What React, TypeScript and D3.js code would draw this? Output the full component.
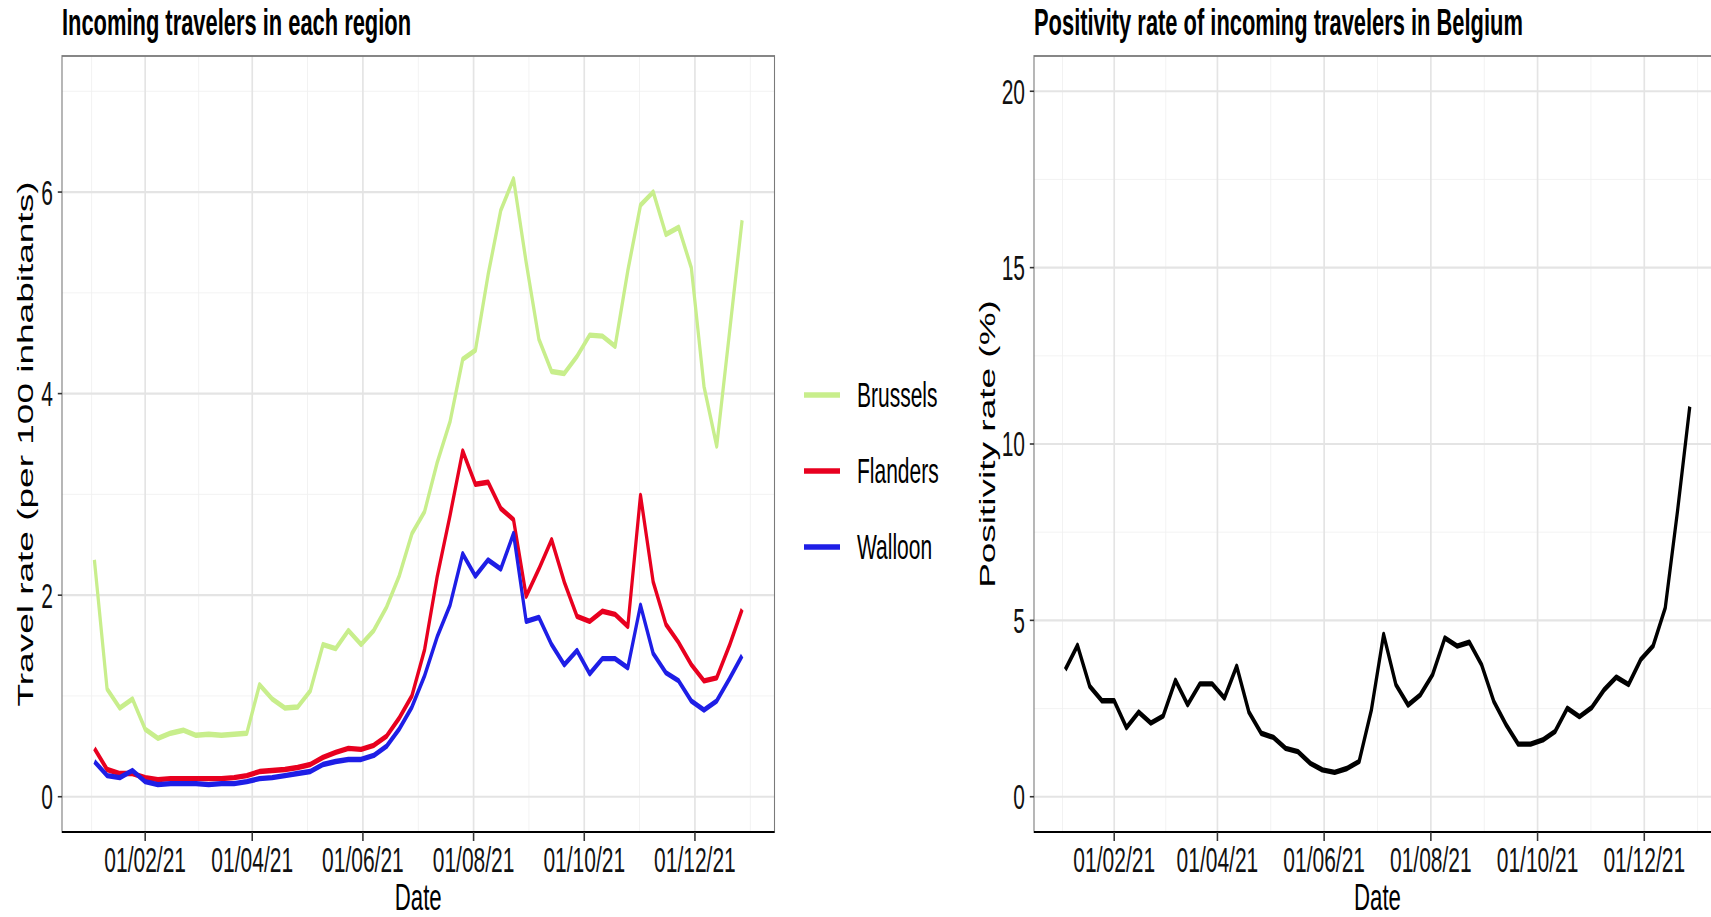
import React from 'react';
import * as d3 from 'd3';

// weekly observations (Mondays)
const WEEKS = [
  '2021-01-04', '2021-01-11', '2021-01-18', '2021-01-25',
  '2021-02-01', '2021-02-08', '2021-02-15', '2021-02-22',
  '2021-03-01', '2021-03-08', '2021-03-15', '2021-03-22', '2021-03-29',
  '2021-04-05', '2021-04-12', '2021-04-19', '2021-04-26',
  '2021-05-03', '2021-05-10', '2021-05-17', '2021-05-24', '2021-05-31',
  '2021-06-07', '2021-06-14', '2021-06-21', '2021-06-28',
  '2021-07-05', '2021-07-12', '2021-07-19', '2021-07-26',
  '2021-08-02', '2021-08-09', '2021-08-16', '2021-08-23', '2021-08-30',
  '2021-09-06', '2021-09-13', '2021-09-20', '2021-09-27',
  '2021-10-04', '2021-10-11', '2021-10-18', '2021-10-25',
  '2021-11-01', '2021-11-08', '2021-11-15', '2021-11-22', '2021-11-29',
  '2021-12-06', '2021-12-13', '2021-12-20', '2021-12-27',
];

const BRUSSELS = [
  2.35, 1.07, 0.88, 0.97, 0.67, 0.58, 0.63, 0.66, 0.61, 0.62, 0.61, 0.62, 0.63,
  1.11, 0.97, 0.88, 0.89, 1.05, 1.51, 1.47, 1.65, 1.51, 1.65, 1.88, 2.19, 2.61,
  2.83, 3.32, 3.72, 4.34, 4.43, 5.18, 5.82, 6.13, 5.3, 4.54, 4.22, 4.2, 4.37,
  4.58, 4.57, 4.47, 5.22, 5.87, 6.0, 5.58, 5.65, 5.25, 4.07, 3.48, 4.6, 5.72,
];

const FLANDERS = [
  0.48, 0.27, 0.23, 0.23, 0.19, 0.17, 0.18, 0.18, 0.18, 0.18, 0.18, 0.19, 0.21,
  0.25, 0.26, 0.27, 0.29, 0.32, 0.39, 0.44, 0.48, 0.47, 0.51, 0.6, 0.78, 1.0,
  1.46, 2.19, 2.79, 3.43, 3.1, 3.12, 2.86, 2.75, 1.99, 2.26, 2.55, 2.13, 1.79,
  1.74, 1.84, 1.81, 1.69, 2.99, 2.13, 1.71, 1.53, 1.31, 1.15, 1.18, 1.5, 1.86,
];

const WALLOON = [
  0.35, 0.21, 0.19, 0.26, 0.15, 0.12, 0.13, 0.13, 0.13, 0.12, 0.13, 0.13, 0.15,
  0.18, 0.19, 0.21, 0.23, 0.25, 0.32, 0.35, 0.37, 0.37, 0.41, 0.5, 0.67, 0.89,
  1.2, 1.59, 1.9, 2.41, 2.19, 2.35, 2.26, 2.61, 1.74, 1.78, 1.51, 1.31, 1.45,
  1.22, 1.37, 1.37, 1.28, 1.9, 1.42, 1.23, 1.15, 0.95, 0.86, 0.95, 1.17, 1.4,
];

const POSITIVITY = [
  3.6, 4.29, 3.13, 2.72, 2.72, 1.96, 2.4, 2.09, 2.29, 3.3, 2.61, 3.2, 3.2,
  2.8, 3.7, 2.4, 1.8, 1.68, 1.37, 1.28, 0.95, 0.76, 0.69, 0.8, 1.0, 2.46,
  4.6, 3.18, 2.6, 2.89, 3.46, 4.5, 4.27, 4.38, 3.74, 2.7, 2.04, 1.49, 1.49,
  1.61, 1.85, 2.51, 2.27, 2.53, 3.03, 3.39, 3.18, 3.89, 4.27, 5.36, 8.1, 11.06,
];

const REGIONS = ['Brussels', 'Flanders', 'Walloon'];
const REGION_COLORS = ['#c8ee8c', '#e8001f', '#1e1ee6'];

const DATE_TICKS = ['2021-02-01', '2021-04-01', '2021-06-01', '2021-08-01', '2021-10-01', '2021-12-01'];
const LEFT_Y_TICKS = [0, 2, 4, 6];
const LEFT_Y_MINOR = [1, 3, 5, 7];
const RIGHT_Y_TICKS = [0, 5, 10, 15, 20];
const RIGHT_Y_MINOR = [2.5, 7.5, 12.5, 17.5];

// the picture is squeezed horizontally; everything is drawn wide then scaled
const SX = 0.6;
const FONT = '"Liberation Sans", Arial, Helvetica, sans-serif';
const parse = d3.utcParse('%Y-%m-%d');
const fmt = d3.utcFormat('%d/%m/%y');

interface Box { x0: number; x1: number; y0: number; y1: number; }
interface Series { values: number[]; color: string; }

const LEFT_BOX: Box = { x0: 62, x1: 774.5, y0: 56, y1: 832 };
const RIGHT_BOX: Box = { x0: 1034, x1: 1721, y0: 56, y1: 832 };

function Panel({ box, yDomain, yTicks, yMinor, series, title, yTitle, yTitleX }: {
  box: Box; yDomain: [number, number]; yTicks: number[]; yMinor: number[];
  series: Series[]; title: string; yTitle: string; yTitleX: number;
}) {
  const dates = WEEKS.map((d) => parse(d)!);
  const [d0, d1] = d3.extent(dates) as [Date, Date];
  const pad = (d1.getTime() - d0.getTime()) * 0.05;
  const dom: [Date, Date] = [new Date(d0.getTime() - pad), new Date(d1.getTime() + pad)];
  const x = d3.scaleUtc().domain(dom).range([box.x0 / SX, box.x1 / SX]);
  const y = d3.scaleLinear().domain(yDomain).range([box.y1, box.y0]);

  const major = DATE_TICKS.map((d) => parse(d)!);
  const minor: Date[] = [];
  const mid = (a: Date, b: Date) => new Date((a.getTime() + b.getTime()) / 2);
  minor.push(new Date(major[0].getTime() - (major[1].getTime() - major[0].getTime()) / 2));
  for (let i = 0; i < major.length - 1; i++) minor.push(mid(major[i], major[i + 1]));
  const n = major.length;
  minor.push(new Date(major[n - 1].getTime() + (major[n - 1].getTime() - major[n - 2].getTime()) / 2));
  const minorIn = minor.filter((d) => d >= dom[0] && d <= dom[1]);

  const line = d3.line<number>()
    .x((_, i) => x(dates[i]))
    .y((v) => y(v));

  const X0 = box.x0 / SX;
  const X1 = box.x1 / SX;
  const cx = (X0 + X1) / 2;

  return (
    <g>
      <text x={X0} y={35} fontFamily={FONT} fontSize={36.5} fontWeight="bold" fill="#000">{title}</text>
      <rect x={X0} y={box.y0} width={X1 - X0} height={box.y1 - box.y0} fill="#fff" />
      {yMinor.map((v) => (
        <line key={'ym' + v} x1={X0} x2={X1} y1={y(v)} y2={y(v)} stroke="#f0f0f0" strokeWidth={1} />
      ))}
      {minorIn.map((d, i) => (
        <line key={'xm' + i} x1={x(d)} x2={x(d)} y1={box.y0} y2={box.y1} stroke="#f0f0f0" strokeWidth={1.4} />
      ))}
      {yTicks.map((v) => (
        <line key={'yM' + v} x1={X0} x2={X1} y1={y(v)} y2={y(v)} stroke="#e4e4e4" strokeWidth={2.2} />
      ))}
      {major.map((d, i) => (
        <line key={'xM' + i} x1={x(d)} x2={x(d)} y1={box.y0} y2={box.y1} stroke="#e4e4e4" strokeWidth={2.8} />
      ))}
      {series.map((s, i) => (
        <path key={'s' + i} d={line(s.values) || ''} fill="none" stroke={s.color}
          strokeWidth={5.4} strokeLinejoin="round" />
      ))}
      <rect x={X0} y={box.y0} width={X1 - X0} height={box.y1 - box.y0} fill="none" stroke="#7a7a7a" strokeWidth={1.8} />
      <line x1={X0} x2={X1} y1={box.y1} y2={box.y1} stroke="#000" strokeWidth={2.2} />
      {yTicks.map((v) => (
        <g key={'yt' + v}>
          <line x1={X0 - 7} x2={X0} y1={y(v)} y2={y(v)} stroke="#333" strokeWidth={1.6} />
          <text x={X0 - 15} y={y(v) + 12.5} textAnchor="end" fontFamily={FONT} fontSize={35} fill="#111">{v}</text>
        </g>
      ))}
      {major.map((d, i) => (
        <g key={'xt' + i}>
          <line x1={x(d)} x2={x(d)} y1={box.y1} y2={box.y1 + 9} stroke="#333" strokeWidth={2.6} />
          <text x={x(d)} y={872} textAnchor="middle" fontFamily={FONT} fontSize={35} fill="#111">{fmt(d)}</text>
        </g>
      ))}
      <text x={cx} y={910} textAnchor="middle" fontFamily={FONT} fontSize={37} fill="#000">Date</text>
      <text transform={`translate(${yTitleX / SX}, ${(box.y0 + box.y1) / 2}) rotate(-90)`}
        textAnchor="middle" fontFamily={FONT} fontSize={37} fill="#000">{yTitle}</text>
    </g>
  );
}

function Legend() {
  const rows = [395, 471, 547];
  return (
    <g>
      {REGIONS.map((r, i) => (
        <g key={r}>
          <line x1={804 / SX} x2={840 / SX} y1={rows[i]} y2={rows[i]} stroke={REGION_COLORS[i]} strokeWidth={5.4} />
          <text x={857 / SX} y={rows[i] + 12.5} fontFamily={FONT} fontSize={35} fill="#000">{r}</text>
        </g>
      ))}
    </g>
  );
}

export default function App() {
  const regionSeries: Series[] = [BRUSSELS, FLANDERS, WALLOON].map((values, i) => ({
    values,
    color: REGION_COLORS[i],
  }));
  return (
    <svg width={1711} height={917} style={{ position: 'absolute', left: 0, top: 0, display: 'block', background: '#fff' }}>
      <rect width={1711} height={917} fill="#fff" />
      <g transform={`scale(${SX},1)`}>
        <Panel box={LEFT_BOX} yDomain={[-0.35, 7.35]} yTicks={LEFT_Y_TICKS} yMinor={LEFT_Y_MINOR}
          series={regionSeries} title="Incoming travelers in each region"
          yTitle="Travel rate (per 100 inhabitants)" yTitleX={33} />
        <Legend />
        <Panel box={RIGHT_BOX} yDomain={[-1, 21]} yTicks={RIGHT_Y_TICKS} yMinor={RIGHT_Y_MINOR}
          series={[{ values: POSITIVITY, color: '#000' }]} title="Positivity rate of incoming travelers in Belgium"
          yTitle="Positivity rate (%)" yTitleX={995} />
      </g>
    </svg>
  );
}
